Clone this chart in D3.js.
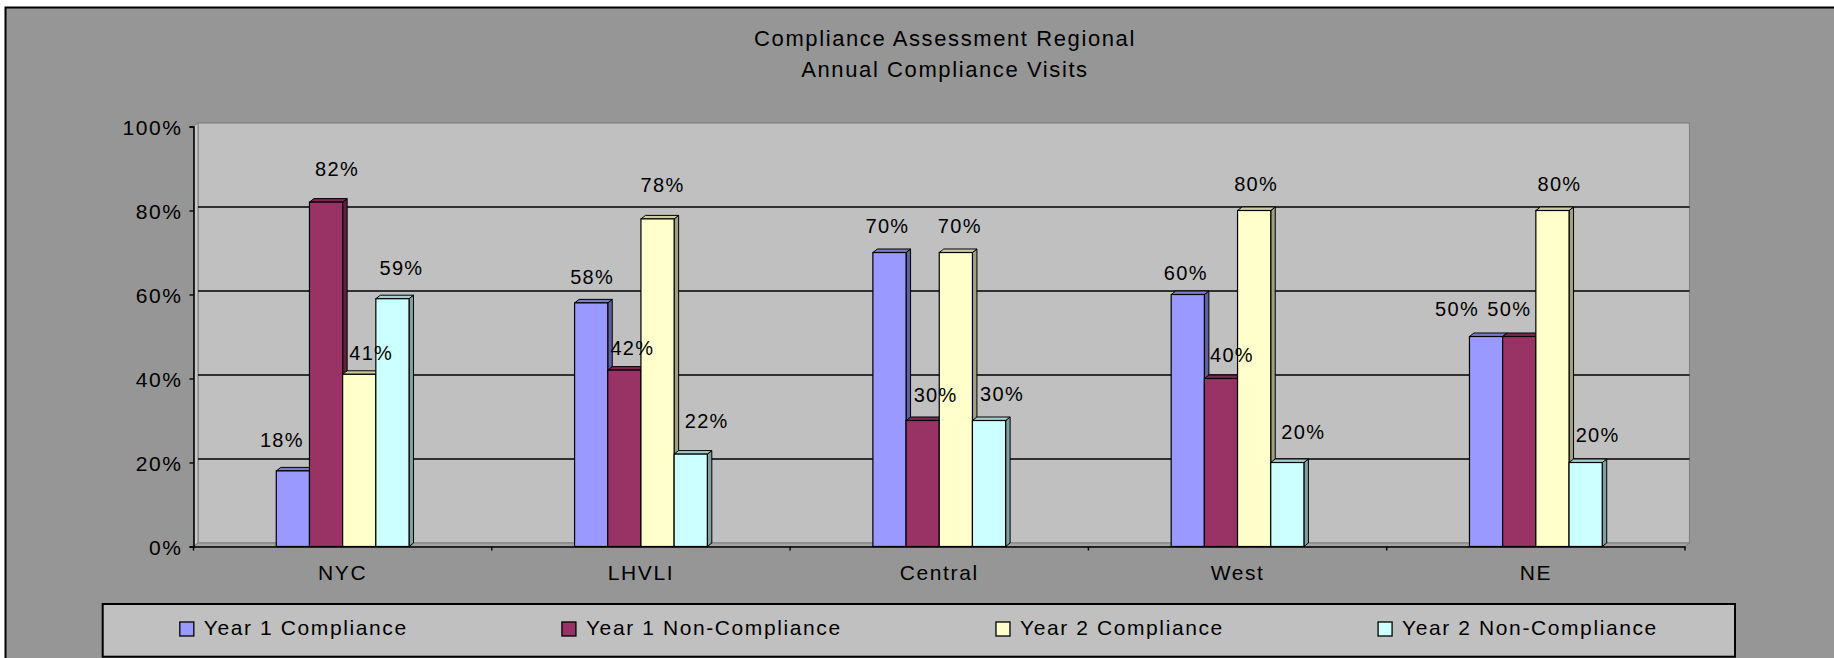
<!DOCTYPE html>
<html>
<head>
<meta charset="utf-8">
<script src="https://cdn.jsdelivr.net/npm/d3@7"></script>
<style>
  html, body { margin: 0; padding: 0; background: #ffffff; }
  svg { display: block; }
  text { font-family: "Liberation Sans", Arial, sans-serif; fill: #000; }
</style>
</head>
<body>
<svg id="chart" width="1834" height="658"></svg>
<script>
// ---------------- data ----------------
const titleLines = ["Compliance Assessment Regional", "Annual Compliance Visits"];
const categories = ["NYC", "LHVLI", "Central", "West", "NE"];
const seriesNames = ["Year 1 Compliance", "Year 1 Non-Compliance", "Year 2 Compliance", "Year 2 Non-Compliance"];
const year1Compliance    = [0.18, 0.58, 0.70, 0.60, 0.50];
const year1NonCompliance = [0.82, 0.42, 0.30, 0.40, 0.50];
const year2Compliance    = [0.41, 0.78, 0.70, 0.80, 0.80];
const year2NonCompliance = [0.59, 0.22, 0.30, 0.20, 0.20];
const yTickValues = [0, 0.2, 0.4, 0.6, 0.8, 1.0];
const seriesColors = ["#9999ff", "#993366", "#ffffcc", "#ccffff"];
// label placement nudges (dx, distance above bar top) as placed in the original chart
const labelNudge = [
  [[-11, 31], [1, 26], [-2, 27], [-2, 22], [-29, 28]],
  [[11, 33], [8, 22], [13, 26], [11, 24], [-10, 28]],
  [[12, 22], [5, 34], [4, 27], [2, 27], [7, 27]],
  [[9, 31], [16, 33], [13, 27], [16, 31], [12, 28]]
];

const seriesValues = [year1Compliance, year1NonCompliance, year2Compliance, year2NonCompliance];

// ---------------- layout ----------------
const svg = d3.select("#chart");
const W = 1834, H = 658;
const plot = { left: 193.5, right: 1685, top: 126.5, bottom: 546.5 };
const depth = { dx: 4.5, dy: -3.5 };
const fontSize = 21, ls = 1.6;

// outer chart area
svg.append("rect").attr("x", 5.5).attr("y", 7.5).attr("width", W + 20).attr("height", H + 20)
  .attr("fill", "#969696").attr("stroke", "#000").attr("stroke-width", 2);

// title
const title = svg.append("g");
titleLines.forEach((t, i) => {
  title.append("text").attr("x", 945).attr("y", 46 + i * 31.3)
    .attr("text-anchor", "middle").style("font-size", "22px").style("letter-spacing", "1.6px")
    .text(t);
});

// scales
const x0 = d3.scaleBand().domain(categories).range([plot.left, plot.right]).paddingInner(0).paddingOuter(0);
const groupW = x0.bandwidth() * 0.445;
const x1 = d3.scaleBand().domain(seriesNames).range([0, groupW]).padding(0);
const y = d3.scaleLinear().domain([0, 1]).range([plot.bottom, plot.top]);
const groupOffset = (x0.bandwidth() - groupW) / 2;

// back wall
svg.append("rect")
  .attr("x", plot.left + depth.dx).attr("y", y(1) + depth.dy)
  .attr("width", plot.right - plot.left).attr("height", y(0) - y(1))
  .attr("fill", "#c0c0c0").attr("stroke", "#808080").attr("stroke-width", 1.2);

// side wall (left)
svg.append("polygon")
  .attr("points", [
    [plot.left, y(1)], [plot.left + depth.dx, y(1) + depth.dy],
    [plot.left + depth.dx, y(0) + depth.dy], [plot.left, y(0)]
  ].map(p => p.join(",")).join(" "))
  .attr("fill", "#c8c8c8").attr("stroke", "#808080").attr("stroke-width", 1);

// gridlines on back wall
svg.append("g").selectAll("line")
  .data(yTickValues.filter(v => v > 0 && v < 1))
  .join("line")
  .attr("x1", plot.left + depth.dx).attr("x2", plot.right + depth.dx)
  .attr("y1", d => y(d) + depth.dy).attr("y2", d => y(d) + depth.dy)
  .attr("stroke", "#000").attr("stroke-width", 1.4);

// floor
svg.append("polygon")
  .attr("points", [
    [plot.left, y(0)], [plot.left + depth.dx, y(0) + depth.dy],
    [plot.right + depth.dx, y(0) + depth.dy], [plot.right, y(0)]
  ].map(p => p.join(",")).join(" "))
  .attr("fill", "#a4a4a4").attr("stroke", "#808080").attr("stroke-width", 1);

// bars
const barData = [];
categories.forEach((c, ci) => {
  seriesNames.forEach((s, si) => {
    barData.push({ cat: c, ci, series: s, si, value: seriesValues[si][ci] });
  });
});

const bars = svg.append("g").selectAll("g.bar").data(barData).join("g").attr("class", "bar");
bars.each(function (d) {
  const g = d3.select(this);
  const xl = x0(d.cat) + groupOffset + x1(d.series);
  const w = x1.bandwidth();
  const yt = y(d.value), yb = y(0);
  const col = seriesColors[d.si];
  // side face
  g.append("polygon")
    .attr("points", [[xl + w, yt], [xl + w + depth.dx, yt + depth.dy], [xl + w + depth.dx, yb + depth.dy], [xl + w, yb]]
      .map(p => p.join(",")).join(" "))
    .attr("fill", d3.color(col).darker(1.3)).attr("stroke", "#000").attr("stroke-width", 1);
  // top face
  g.append("polygon")
    .attr("points", [[xl, yt], [xl + depth.dx, yt + depth.dy], [xl + w + depth.dx, yt + depth.dy], [xl + w, yt]]
      .map(p => p.join(",")).join(" "))
    .attr("fill", d3.color(col).darker(0.6)).attr("stroke", "#000").attr("stroke-width", 1);
  // front face
  g.append("rect").attr("x", xl).attr("y", yt).attr("width", w).attr("height", yb - yt)
    .attr("fill", col).attr("stroke", "#000").attr("stroke-width", 1.2);
});

// axes
const yAxis = d3.axisLeft(y).tickValues(yTickValues).tickFormat(d3.format(".0%")).tickSize(4).tickPadding(7);
const yg = svg.append("g").attr("transform", `translate(${plot.left},0)`).call(yAxis);
yg.select(".domain").attr("stroke", "#000").attr("stroke-width", 1.6);
yg.selectAll(".tick line").attr("stroke", "#000").attr("stroke-width", 1.4);
yg.selectAll(".tick text").style("font-size", fontSize + "px").style("letter-spacing", ls + "px")
  .attr("font-family", null).attr("fill", "#000").attr("dy", "0.36em");

// category axis: line + boundary ticks + labels
const xAxis = d3.axisBottom(x0).tickSize(0).tickPadding(18.6);
const xg = svg.append("g").attr("transform", `translate(0,${plot.bottom})`).call(xAxis);
xg.select(".domain").attr("stroke", "#000").attr("stroke-width", 1.6);
xg.selectAll(".tick text").style("font-size", fontSize + "px").style("letter-spacing", ls + "px")
  .attr("font-family", null).attr("fill", "#000");
const boundaries = categories.map(c => x0(c)).concat([x0.range()[1]]);
xg.selectAll("line.bt").data(boundaries).join("line").attr("class", "bt")
  .attr("x1", d => d).attr("x2", d => d).attr("y1", 0).attr("y2", 4)
  .attr("stroke", "#000").attr("stroke-width", 1.4);

// data labels
svg.append("g").selectAll("text").data(barData).join("text")
  .attr("x", d => x0(d.cat) + groupOffset + x1(d.series) + x1.bandwidth() / 2 + labelNudge[d.si][d.ci][0])
  .attr("y", d => y(d.value) - labelNudge[d.si][d.ci][1])
  .attr("dy", "0.36em")
  .attr("text-anchor", "middle")
  .style("font-size", "20px").style("letter-spacing", "1.3px")
  .text(d => d3.format(".0%")(d.value));

// legend
const legBox = { x: 102.7, y: 604, w: 1632.3, h: 52.7 };
const leg = svg.append("g");
leg.append("rect").attr("x", legBox.x).attr("y", legBox.y).attr("width", legBox.w).attr("height", legBox.h)
  .attr("fill", "#c0c0c0").attr("stroke", "#000").attr("stroke-width", 2);
const sw = 14, swGap = 10;
const items = leg.selectAll("g.item").data(seriesNames).join("g").attr("class", "item");
items.append("rect").attr("width", sw).attr("height", sw)
  .attr("fill", (d, i) => seriesColors[i]).attr("stroke", "#000").attr("stroke-width", 1.3);
items.append("text").attr("x", sw + swGap).attr("y", 13)
  .style("font-size", fontSize + "px").style("letter-spacing", ls + "px").text(d => d);
const widths = [];
items.each(function () {
  widths.push(sw + swGap + d3.select(this).select("text").node().getComputedTextLength());
});
const totalW = d3.sum(widths);
const gap = (legBox.w - totalW) / seriesNames.length;
let cx = legBox.x + gap / 2;
items.each(function (d, i) {
  d3.select(this).attr("transform", `translate(${cx},${legBox.y + 18})`);
  cx += widths[i] + gap;
});
</script>
</body>
</html>
